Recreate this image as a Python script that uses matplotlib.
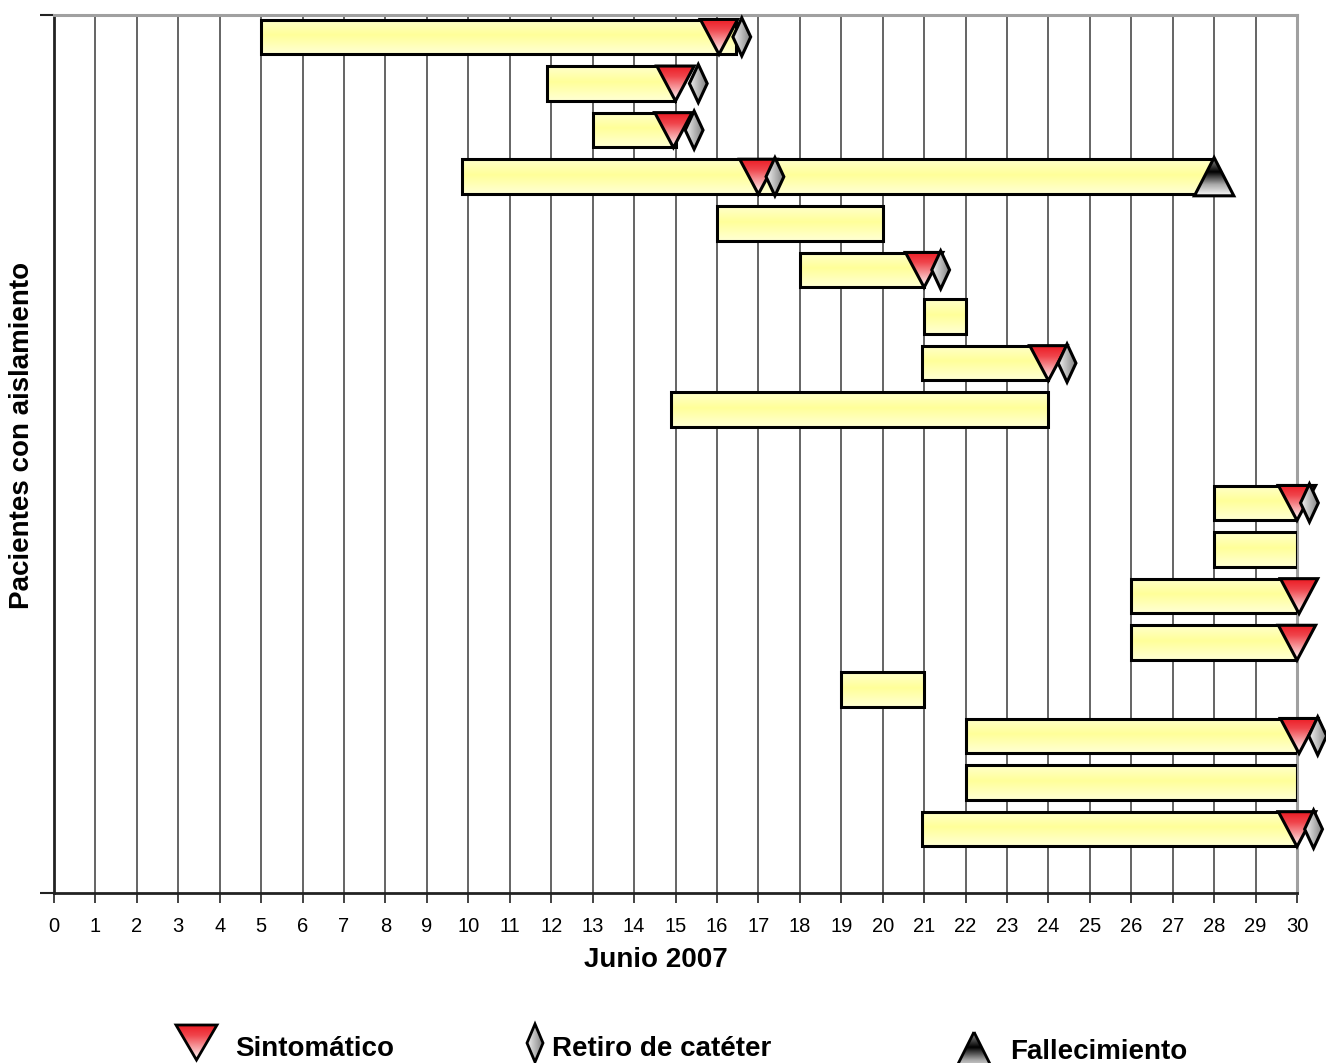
import numpy as np
import matplotlib
matplotlib.use("Agg")
import matplotlib.pyplot as plt
from matplotlib.patches import Polygon
from matplotlib.colors import LinearSegmentedColormap

plt.rcParams['font.family'] = ['Liberation Sans', 'DejaVu Sans']

nan = np.nan
# ---- data (one entry per row, top to bottom; row 10 is empty) ----
starts   = [5, 11.9, 13, 9.85, 16, 18, 21, 20.95, 14.9, nan, 28, 28, 26, 26, 19, 22, 22, 20.95]
ends     = [16.45, 15, 15, 28, 20, 21, 22, 24, 24, nan, 30, 30, 30, 30, 21, 30, 30, 30]
sintomatico = [16.05, 15, 14.95, 17, nan, 21, nan, 24, nan, nan, 30, nan, 30.05, 30, nan, 30.05, nan, 30]
cateter     = [16.6, 15.55, 15.45, 17.4, nan, 21.4, nan, 24.45, nan, nan, 30.3, nan, nan, nan, nan, 30.5, nan, 30.4]
fallecimiento = [nan, nan, nan, 28, nan, nan, nan, nan, nan, nan, nan, nan, nan, nan, nan, nan, nan, nan]
xticks = list(range(0, 31))
xlabel = "Junio 2007"
ylabel = "Pacientes con aislamiento"
legend_labels = ["Sintomático", "Retiro de catéter", "Fallecimiento"]

W, H = 1326, 1063
fig = plt.figure(figsize=(W / 100, H / 100), dpi=100)
ax = fig.add_axes([54 / W, 1 - 893 / H, (1297 - 54) / W, (893 - 15) / H])

cm_bar = LinearSegmentedColormap.from_list("bar", [(0, '#ffffcc'), (0.45, '#ffff99'), (1, '#ffffd4')])
cm_red = LinearSegmentedColormap.from_list("red", [(0, '#ec1c24'), (0.3, '#f0464d'), (1, '#ffffff')])
cm_dia = LinearSegmentedColormap.from_list("dia", [(0, '#f2f2f2'), (1, '#808080')])
cm_dead = LinearSegmentedColormap.from_list("dead", [(0, '#9a9a9a'), (0.38, '#000000'), (0.7, '#a8a8a8'), (1, '#ffffff')])

vgrad = np.linspace(0, 1, 256).reshape(-1, 1)
hgrad = np.linspace(0, 1, 256).reshape(1, -1)


def fill_gradient(a, patch, cmap, horizontal=False, z=2, inverted=True):
    verts = patch.get_path().vertices
    verts = patch.get_patch_transform().transform(verts) if hasattr(patch, 'get_patch_transform') else verts
    x0, x1 = verts[:, 0].min(), verts[:, 0].max()
    y0, y1 = verts[:, 1].min(), verts[:, 1].max()
    arr = hgrad if horizontal else vgrad
    if inverted:
        ext = (x0, x1, y1, y0)
    else:
        ext = (x0, x1, y0, y1)
    im = a.imshow(arr, cmap=cmap, extent=ext, origin='upper', aspect='auto',
                  interpolation='bilinear', zorder=z)
    im.set_clip_box(fig.bbox)
    im.set_clip_path(patch)
    return im


rows = np.arange(len(starts))
bh = 0.74

# grid
for xv in xticks[1:-1]:
    ax.axvline(xv, color='#3a3a3a', lw=1.1, zorder=0.5)

# bars
valid = [i for i in rows if not np.isnan(starts[i])]
bars = ax.barh([rows[i] for i in valid], [ends[i] - starts[i] for i in valid],
               left=[starts[i] for i in valid], height=bh,
               facecolor='none', edgecolor='black', linewidth=2.2, zorder=3)
for b in bars:
    fill_gradient(ax, b, cm_bar, z=2)

# symptomatic triangles (pointing down, tip at bar bottom)
tw, th = 0.9, 0.75
for i in rows:
    x = sintomatico[i]
    if np.isnan(x):
        continue
    y = rows[i]
    p = Polygon([(x - tw / 2, y - th / 2), (x + tw / 2, y - th / 2), (x, y + th / 2)],
                closed=True, fc='none', ec='black', lw=2.2, zorder=5, clip_on=False)
    ax.add_patch(p)
    fill_gradient(ax, p, cm_red, z=4)

# catheter diamonds
dw, dh = 0.43, 0.82
for i in rows:
    x = cateter[i]
    if np.isnan(x):
        continue
    y = rows[i]
    p = Polygon([(x, y - dh / 2), (x + dw / 2, y), (x, y + dh / 2), (x - dw / 2, y)],
                closed=True, fc='none', ec='black', lw=2.2, zorder=7, clip_on=False)
    ax.add_patch(p)
    fill_gradient(ax, p, cm_dia, horizontal=True, z=6)

# death triangles (pointing up)
fw, fh = 0.95, 0.82
for i in rows:
    x = fallecimiento[i]
    if np.isnan(x):
        continue
    y = rows[i]
    p = Polygon([(x, y - fh / 2), (x + fw / 2, y + fh / 2), (x - fw / 2, y + fh / 2)],
                closed=True, fc='none', ec='black', lw=2.2, zorder=9, clip_on=False)
    ax.add_patch(p)
    fill_gradient(ax, p, cm_dead, z=8)

ax.set_xlim(0, 30)
ax.set_ylim(18.37, -0.47)
ax.set_xticks(xticks)
ax.set_xticklabels([str(t) for t in xticks], fontsize=14.5)
ax.tick_params(axis='x', direction='out', length=7, width=1.2, color='#222222', pad=10)
ax.set_yticks([18.37, -0.47])
ax.set_yticklabels([])
ax.tick_params(axis='y', direction='out', length=10, width=1.5, color='#222222')
for s in ['top', 'right']:
    ax.spines[s].set_color('#a0a0a0')
    ax.spines[s].set_linewidth(2.2)
for s in ['left', 'bottom']:
    ax.spines[s].set_color('#222222')
    ax.spines[s].set_linewidth(2.0)
ax.set_facecolor('white')

fig.text(656 / W, 1 - 960 / H, xlabel, ha='center', va='center', fontsize=20, fontweight='bold')
fig.text(22 / W, 1 - 435 / H, ylabel, ha='center', va='center', rotation=90,
         fontsize=20, fontweight='bold')

# legend (pixel coordinate overlay)
lax = fig.add_axes([0, 0, 1, 1], zorder=-1)
lax.set_xlim(0, W)
lax.set_ylim(H, 0)
lax.axis('off')
lax.patch.set_visible(False)

p = Polygon([(176, 1025), (217, 1025), (196.5, 1060)], closed=True, fc='none', ec='black', lw=2, zorder=5)
lax.add_patch(p)
fill_gradient(lax, p, cm_red, z=4)
lax.text(235, 1049, legend_labels[0], fontsize=20, fontweight='bold', va='center', ha='left')

p = Polygon([(535, 1024), (543, 1043), (535, 1062), (527, 1043)], closed=True, fc='none', ec='black', lw=2, zorder=5)
lax.add_patch(p)
fill_gradient(lax, p, cm_dia, horizontal=True, z=4)
lax.text(552, 1049, legend_labels[1], fontsize=20, fontweight='bold', va='center', ha='left')

p = Polygon([(974, 1032), (994, 1072), (954, 1072)], closed=True, fc='none', ec='black', lw=2, zorder=5)
lax.add_patch(p)
fill_gradient(lax, p, cm_dead, z=4)
lax.text(1010, 1052, legend_labels[2], fontsize=20, fontweight='bold', va='center', ha='left')

fig.savefig("out.png", dpi=100)
